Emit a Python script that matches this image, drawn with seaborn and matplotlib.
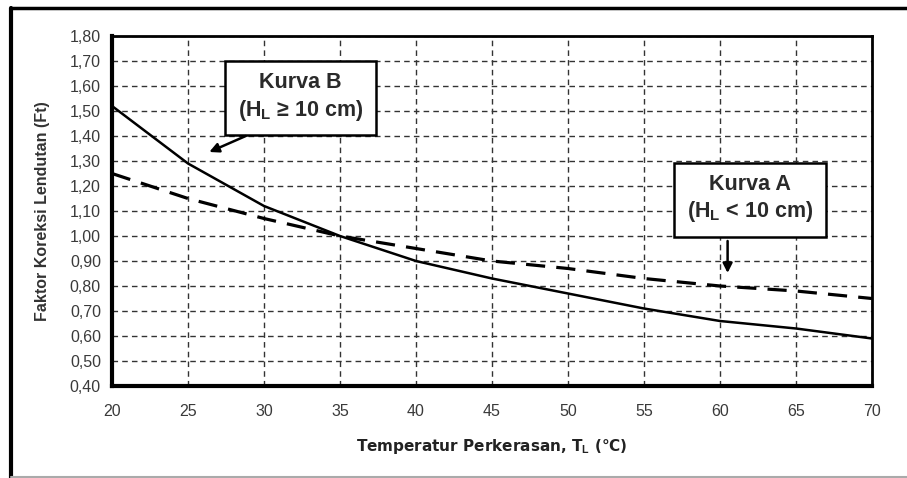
import numpy as np
import pandas as pd
import matplotlib
matplotlib.use("Agg")
import matplotlib.pyplot as plt
import seaborn as sns

# temperature (deg C)
temp = [20, 25, 30, 35, 40, 45, 50, 55, 60, 65, 70]
# Kurva B (H_L >= 10 cm) - solid
kurva_b = [1.52, 1.29, 1.12, 1.00, 0.90, 0.83, 0.77, 0.71, 0.66, 0.63, 0.59]
# Kurva A (H_L < 10 cm) - dashed
kurva_a = [1.25, 1.15, 1.07, 1.00, 0.95, 0.90, 0.87, 0.83, 0.80, 0.78, 0.75]

x_ticks = [20, 25, 30, 35, 40, 45, 50, 55, 60, 65, 70]
y_ticks = [0.40, 0.50, 0.60, 0.70, 0.80, 0.90, 1.00, 1.10, 1.20, 1.30, 1.40, 1.50, 1.60, 1.70, 1.80]

sns.set_style("white")
plt.rcParams['font.family'] = ['Liberation Sans', 'DejaVu Sans']
plt.rcParams['mathtext.fontset'] = 'custom'
plt.rcParams['mathtext.rm'] = 'Liberation Sans'
plt.rcParams['mathtext.bf'] = 'Liberation Sans:bold'

df = pd.DataFrame({
    'temp': temp * 2,
    'ft': kurva_b + kurva_a,
    'kurva': ['B'] * len(temp) + ['A'] * len(temp),
})

fig = plt.figure(figsize=(9.07, 4.78), dpi=100)
ax = fig.add_axes([112 / 907, 1 - 386 / 478, 760 / 907, 350 / 478])

sns.lineplot(data=df[df.kurva == 'B'], x='temp', y='ft', color='black', lw=1.8, ax=ax)
sns.lineplot(data=df[df.kurva == 'A'], x='temp', y='ft', color='black', lw=2.3,
             ax=ax, linestyle=(0, (6, 3.5)))

ax.set_xlim(20, 70)
ax.set_ylim(0.40, 1.80)
ax.set_xticks(x_ticks)
ax.set_yticks(y_ticks)
ax.set_yticklabels([f"{v:.2f}".replace('.', ',') for v in y_ticks])
ax.tick_params(axis='both', labelsize=11.5, labelcolor='#3a3a3a', color='black',
               length=4, width=2, direction='out')
ax.tick_params(axis='x', pad=9)
ax.tick_params(axis='y', pad=4)
ax.grid(True, color='#333333', linestyle=(0, (4, 3)), lw=1)

for side in ['left', 'bottom']:
    ax.spines[side].set_linewidth(3)
for side in ['top', 'right']:
    ax.spines[side].set_linewidth(2)
for s in ax.spines.values():
    s.set_color('black')

ax.set_xlabel(r'Temperatur Perkerasan, T$_\mathbf{L}$ (°C)', fontsize=11,
              fontweight='bold', color='#222222', labelpad=13,
              family=['DejaVu Sans'])
ax.set_ylabel('Faktor Koreksi Lendutan (Ft)', fontsize=11.5, fontweight='bold',
              color='#333333', labelpad=14)

# annotation boxes
box = dict(boxstyle='square,pad=0.6', fc='white', ec='black', lw=1.8)
ax.text(32.4, 1.555, 'Kurva B\n' + r'(H$_\mathbf{L}$ ≥ 10 cm)', ha='center', va='center',
        fontsize=15.5, fontweight='bold', color='#2a2a2a', linespacing=1.25, bbox=box)
ax.text(62.0, 1.148, 'Kurva A\n' + r'(H$_\mathbf{L}$ < 10 cm)', ha='center', va='center',
        fontsize=15.5, fontweight='bold', color='#2a2a2a', linespacing=1.25, bbox=box)

arrow = dict(arrowstyle='-|>', color='black', lw=1.8, shrinkA=0, shrinkB=0,
             mutation_scale=14)
ax.annotate('', xy=(26.4, 1.336), xytext=(28.8, 1.40), arrowprops=arrow)
ax.annotate('', xy=(60.5, 0.852), xytext=(60.5, 0.98), arrowprops=arrow)

# outer frame of the original figure
fig.add_artist(plt.Line2D([11 / 907, 1], [1 - 8 / 478, 1 - 8 / 478], color='black', lw=2.5))
fig.add_artist(plt.Line2D([11 / 907, 11 / 907], [0, 1 - 8 / 478], color='black', lw=3))
fig.add_artist(plt.Line2D([11 / 907, 1], [1.5 / 478, 1.5 / 478], color='#aaaaaa', lw=1.5))

if ax.get_legend() is not None:
    ax.get_legend().remove()

fig.savefig('out.png', dpi=100)
